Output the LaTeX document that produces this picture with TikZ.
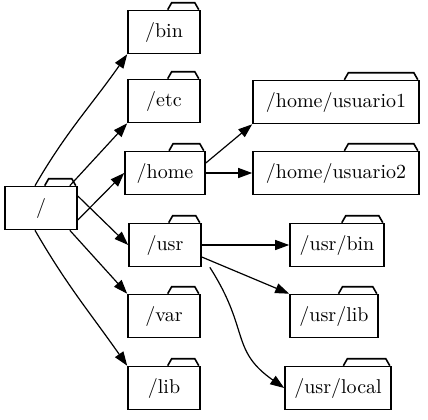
\documentclass[tikz,border=0pt]{standalone}
\usetikzlibrary{calc,arrows.meta}
\begin{document}
\begin{tikzpicture}[x=0.5pt,y=-0.5pt,
  folder/.style={draw,thick,fill=white,minimum height=21.5pt,inner sep=2pt},
  tab/.style={thick},
  e/.style={-{Triangle[length=7pt,width=5pt]},semithick}]
\useasboundingbox (0,0) rectangle (428,419);
\node[folder,minimum width=36pt] (r) at (41,208) {/};
\node[folder,minimum width=36pt] (bin) at (164,32) {/bin};
\node[folder,minimum width=36pt] (etc) at (164,101) {/etc};
\node[folder,minimum width=40pt] (home) at (165,173) {/home};
\node[folder,minimum width=36pt] (usr) at (165,245) {/usr};
\node[folder,minimum width=36pt] (var) at (164,316) {/var};
\node[folder,minimum width=36pt] (lib) at (164,388) {/lib};
\node[folder,minimum width=83pt] (u1) at (336,102) {/home/usuario1};
\node[folder,minimum width=83pt] (u2) at (336,173) {/home/usuario2};
\node[folder,minimum width=47pt] (ub) at (337,245) {/usr/bin};
\node[folder,minimum width=44pt] (ul) at (334,316) {/usr/lib};
\node[folder,minimum width=53pt] (uloc) at (338,388) {/usr/local};
\foreach \n in {r,bin,etc,home,usr,var,lib,u1,u2,ub,ul,uloc}
  \draw[tab] ($(\n.north west)!0.55!(\n.north east)$) -- ++(2pt,3.5pt) -- ($(\n.north east)+(-3pt,3.5pt)$) -- ++(2pt,-3.5pt);
\draw[e] (r.north) ++(-3pt,0) to[out=60,in=235] (bin.south west);
\draw[e] (r.north east) ++(-4pt,0) -- (etc.south west);
\draw[e] (r.east) ++(0,-6pt) -- (home.west);
\draw[e] (r.east) ++(0,6pt) -- (usr.west);
\draw[e] (r.south east) ++(-4pt,0) -- (var.north west);
\draw[e] (r.south) ++(-3pt,0) to[out=-60,in=125] (lib.north west);
\draw[e] (home.east) ++(0,5pt) -- (u1.south west);
\draw[e] (home.east) -- (u2.west);
\draw[e] (usr.east) -- (ub.west);
\draw[e] (usr.east) ++(0,-6pt) -- (ul.north west);
\draw[e] (usr.south east) ++(4pt,0) .. controls (250,330) and (230,350) .. (uloc.west);
\end{tikzpicture}
\end{document}
